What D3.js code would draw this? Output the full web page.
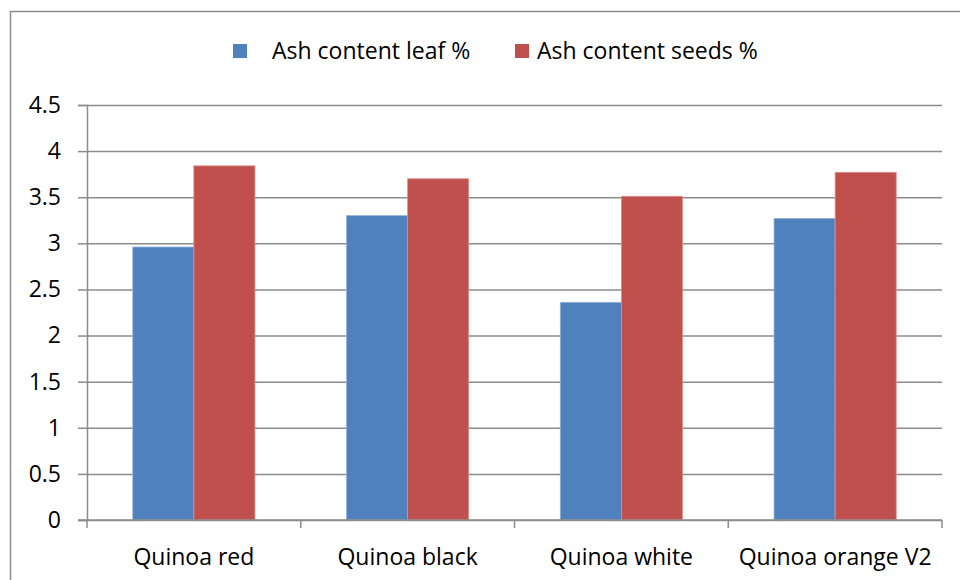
<!DOCTYPE html>
<html>
<head>
<meta charset="utf-8">
<script src="https://cdn.jsdelivr.net/npm/d3@7"></script>
<style>
  html, body { margin: 0; padding: 0; background: #fff; }
  svg { display: block; font-family: "Open Sans", sans-serif; }
</style>
</head>
<body>
<div id="chart"></div>
<script>
// data
var categories = ["Quinoa red", "Quinoa black", "Quinoa white", "Quinoa orange V2"];
var seriesNames = ["Ash content leaf %", "Ash content seeds %"];
var leafValues = [2.96, 3.30, 2.36, 3.27];
var seedValues = [3.84, 3.70, 3.51, 3.77];
var yTicks = [0, 0.5, 1, 1.5, 2, 2.5, 3, 3.5, 4, 4.5];

var colors = ["#4F81BD", "#C0504D"];
var width = 960, height = 580;
var margin = {top: 105, right: 18, bottom: 60, left: 87};
var fontSize = 23;

var svg = d3.select("#chart").append("svg")
    .attr("width", width)
    .attr("height", height);

// outer chart frame (runs off the right and bottom edge)
svg.append("rect")
    .attr("x", 10.5).attr("y", 11.5)
    .attr("width", width).attr("height", height)
    .attr("fill", "none")
    .attr("stroke", "#8c8c8c")
    .attr("stroke-width", 1.5);

var x0 = d3.scaleBand()
    .domain(categories)
    .range([margin.left, width - margin.right])
    .paddingInner(0)
    .paddingOuter(0);

// gap width 150% -> bar group is 2/(2+1.5) of the band
var groupW = x0.bandwidth() * 2 / 3.5;
var x1 = d3.scaleBand()
    .domain(seriesNames)
    .range([0, groupW]);

var y = d3.scaleLinear()
    .domain([0, 4.5])
    .range([height - margin.bottom, margin.top]);

// gridlines
svg.append("g")
    .attr("class", "grid")
    .attr("transform", "translate(" + margin.left + ",0)")
    .call(d3.axisLeft(y).tickValues(yTicks).tickSize(-(width - margin.left - margin.right)).tickFormat(""))
    .call(function (g) { g.select(".domain").remove(); })
    .selectAll("line")
    .attr("stroke", "#8c8c8c")
    .attr("stroke-width", 1.5);

// bars
var rows = categories.map(function (c, i) {
  return {cat: c, values: [leafValues[i], seedValues[i]]};
});

var groups = svg.append("g").selectAll("g")
  .data(rows)
  .enter().append("g")
    .attr("transform", function (d) {
      return "translate(" + (x0(d.cat) + (x0.bandwidth() - groupW) / 2) + ",0)";
    });

groups.selectAll("rect")
  .data(function (d) { return d.values.map(function (v, j) { return {name: seriesNames[j], value: v, j: j}; }); })
  .enter().append("rect")
    .attr("x", function (d) { return x1(d.name); })
    .attr("y", function (d) { return y(d.value); })
    .attr("width", x1.bandwidth())
    .attr("height", function (d) { return y(0) - y(d.value); })
    .attr("fill", function (d) { return colors[d.j]; })
    .attr("stroke", function (d) { return d.j === 0 ? "#8fb0d8" : "#dc8f8d"; })
    .attr("stroke-width", 0.8);

// y axis
var yAxis = svg.append("g")
    .attr("transform", "translate(" + margin.left + ",0)")
    .call(d3.axisLeft(y).tickValues(yTicks).tickSize(9).tickPadding(17).tickFormat(d3.format("")));
yAxis.select(".domain").attr("stroke", "#8c8c8c").attr("stroke-width", 1.5);
yAxis.selectAll("line").attr("stroke", "#8c8c8c").attr("stroke-width", 1.5);
yAxis.selectAll("text")
    .attr("font-size", fontSize)
    .attr("fill", "#000")
    .style("font-family", "'Open Sans', sans-serif");

// x axis with ticks at band boundaries
var xAxisG = svg.append("g")
    .attr("transform", "translate(0," + y(0) + ")");
xAxisG.append("line")
    .attr("x1", margin.left - 9).attr("x2", width - margin.right)
    .attr("stroke", "#8c8c8c").attr("stroke-width", 1.5);
var bounds = categories.map(function (c) { return x0(c); }).concat([x0(categories[categories.length - 1]) + x0.bandwidth()]);
xAxisG.selectAll("line.tick")
  .data(bounds)
  .enter().append("line")
    .attr("class", "tick")
    .attr("x1", function (d) { return d; }).attr("x2", function (d) { return d; })
    .attr("y1", 0).attr("y2", 8)
    .attr("stroke", "#8c8c8c").attr("stroke-width", 1.5);
xAxisG.selectAll("text")
  .data(categories)
  .enter().append("text")
    .attr("x", function (d) { return x0(d) + x0.bandwidth() / 2; })
    .attr("y", 45)
    .attr("text-anchor", "middle")
    .attr("font-size", fontSize)
    .text(function (d) { return d; });

// legend
var legendItems = [
  {name: seriesNames[0], color: colors[0], sx: 233, tx: 272},
  {name: seriesNames[1], color: colors[1], sx: 515, tx: 537}
];
var legend = svg.append("g").selectAll("g")
  .data(legendItems)
  .enter().append("g");
legend.append("rect")
    .attr("x", function (d) { return d.sx; })
    .attr("y", 44)
    .attr("width", 14).attr("height", 14)
    .attr("fill", function (d) { return d.color; });
legend.append("text")
    .attr("x", function (d) { return d.tx; })
    .attr("y", 59)
    .attr("font-size", fontSize)
    .text(function (d) { return d.name; });
</script>
</body>
</html>
